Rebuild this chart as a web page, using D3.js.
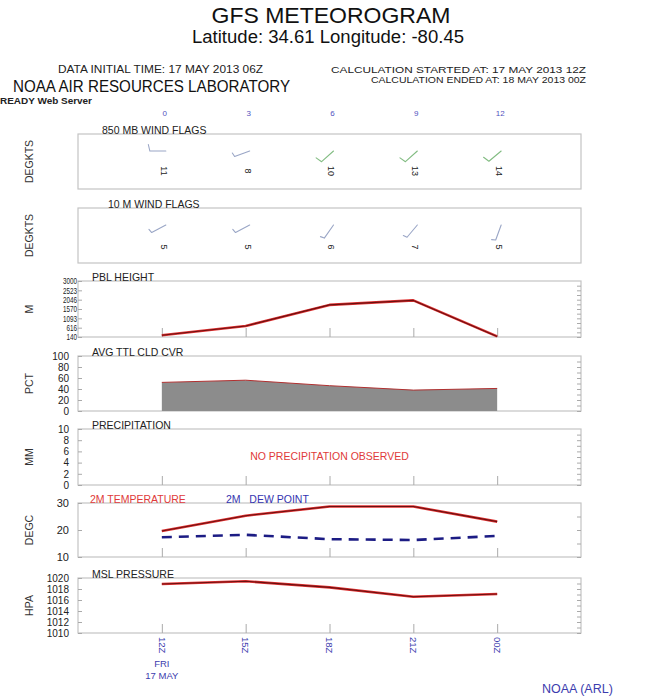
<!DOCTYPE html>
<html>
<head>
<meta charset="utf-8">
<script src="https://cdn.jsdelivr.net/npm/d3@7"></script>
<style>
  html, body { margin: 0; padding: 0; background: #fff; }
  svg { display: block; font-family: "Liberation Sans", Arial, sans-serif; }
</style>
</head>
<body>
<svg id="chart" width="662" height="696"></svg>
<script>
// Forecast hours and their labels
const hours = [0, 3, 6, 9, 12];
const hourLabels = ["0", "3", "6", "9", "12"];
const timeLabels = ["12Z", "15Z", "18Z", "21Z", "00Z"];

// Wind flags (direction the wind blows from, degrees; speed, knots)
const wind850Dir = [270, 250, 228, 228, 230];
const wind850Spd = [11, 8, 10, 13, 14];
const wind10Dir = [242, 242, 215, 220, 200];
const wind10Spd = [5, 5, 6, 7, 5];

// Boundary layer height (m)
const pblHeight = [230, 700, 1780, 2010, 170];
const pblTicks = [140, 616, 1093, 1570, 2046, 2523, 3000];

// Average total cloud cover (%)
const cloudCover = [52, 56, 46, 38, 41];
const cloudTicks = [0, 20, 40, 60, 80, 100];

// Precipitation (mm) – none forecast
const precipTicks = [0, 2, 4, 6, 8, 10];

// 2 m temperature and dew point (deg C)
const temp2m = [19.6, 25.3, 28.7, 28.7, 23.1];
const dew2m = [17.3, 18.2, 16.6, 16.3, 17.8];
const tempTicks = [10, 20, 30];

// Mean sea level pressure (hPa)
const mslp = [1018.9, 1019.4, 1018.3, 1016.6, 1017.1];
const presTicks = [1010, 1012, 1014, 1016, 1018, 1020];

const svg = d3.select("#chart");
const INK = "#222";
const BLUE = "#3c3cae";

const x = d3.scaleLinear().domain([-3, 15]).range([78, 581]);

// ---------- header ----------
function headerText(txt, px, py, size, len, anchor, fill, weight) {
  const t = svg.append("text").attr("x", px).attr("y", py)
    .attr("font-size", size).attr("fill", fill || INK)
    .attr("text-anchor", anchor || "start").text(txt);
  if (len) t.attr("textLength", len).attr("lengthAdjust", "spacingAndGlyphs");
  if (weight) t.attr("font-weight", weight);
  return t;
}
headerText("GFS METEOROGRAM", 331, 23, 22.5, 239, "middle", "#111");
headerText("Latitude: 34.61 Longitude: -80.45", 328, 43, 17.5, 272, "middle", "#111");
headerText("DATA INITIAL TIME: 17 MAY 2013 06Z", 58, 73, 10.5, 205);
headerText("CALCULATION STARTED AT: 17 MAY 2013 12Z", 586, 72.5, 9.5, 255, "end");
headerText("CALCULATION ENDED AT: 18 MAY 2013 00Z", 586, 82.5, 9.5, 215, "end");
headerText("NOAA AIR RESOURCES LABORATORY", 13, 91.5, 16, 277, "start", "#111");
headerText("READY Web Server", 0, 104, 8.5, 92, "start", INK, "bold");

// forecast hour labels along the top
svg.append("g").selectAll("text").data(hours).join("text")
  .attr("x", d => x(d) + 3).attr("y", 116).attr("text-anchor", "middle")
  .attr("font-size", 8).attr("fill", "#5252c0")
  .text((d, i) => hourLabels[i]);

// ---------- panel helper ----------
function panel(top, bottom, opts) {
  const g = svg.append("g");
  const y = d3.scaleLinear().domain(opts.domain || [0, 1]).range([bottom, top]);
  g.append("rect").attr("x", x.range()[0]).attr("y", top)
    .attr("width", x.range()[1] - x.range()[0]).attr("height", bottom - top)
    .attr("fill", "none").attr("stroke", "#c4c4c4").attr("stroke-width", 1.2);

  if (opts.ticks) {
    const ax = g.append("g").attr("transform", `translate(${x.range()[0]},0)`)
      .call(d3.axisLeft(y).tickValues(opts.ticks).tickSizeInner(-4).tickSizeOuter(0)
        .tickPadding(opts.pad || 9).tickFormat(d3.format("d")));
    ax.select(".domain").remove();
    ax.selectAll("line").attr("stroke", "#aaa");
    ax.selectAll("text").attr("font-size", opts.fontSize || 10.5).attr("fill", INK)
      .attr("font-family", "'Liberation Sans', Arial, sans-serif");
    if (opts.squeeze) {
      ax.selectAll("text").attr("transform", `scale(${opts.squeeze},1)`)
        .attr("x", -(opts.pad || 9) / opts.squeeze);
    }
    // minor ticks on the right border
    const minor = [];
    for (let i = 0; i < opts.ticks.length - 1; i++) {
      minor.push(opts.ticks[i], (opts.ticks[i] + opts.ticks[i + 1]) / 2);
    }
    const ar = g.append("g").attr("transform", `translate(${x.range()[1]},0)`)
      .call(d3.axisRight(y).tickValues(minor).tickSizeInner(-4).tickSizeOuter(0).tickFormat(""));
    ar.select(".domain").remove();
    ar.selectAll("line").attr("stroke", "#aaa");
  }
  if (opts.bottomTicks) {
    const ab = g.append("g").attr("transform", `translate(0,${bottom})`)
      .call(d3.axisBottom(x).tickValues(hours).tickSizeInner(-9).tickSizeOuter(0).tickFormat(""));
    ab.select(".domain").remove();
    ab.selectAll("line").attr("stroke", "#aaa");
  }
  // panel title sitting on the top border
  if (opts.title) {
    svg.append("text").attr("x", opts.titleX || 92).attr("y", top)
      .attr("font-size", 10.5).attr("fill", INK).text(opts.title);
  }
  // units label
  svg.append("text")
    .attr("transform", `translate(33,${(top + bottom) / 2}) rotate(-90)`)
    .attr("text-anchor", "middle").attr("font-size", 10.5).attr("fill", "#333")
    .text(opts.unit);
  return { g, y };
}

// ---------- wind flags ----------
function drawBarbs(g, cy, dirs, spds, numY) {
  const L = 16;
  dirs.forEach((dir, i) => {
    const spd = spds[i];
    const cx = x(hours[i]) + 4;
    const r = dir * Math.PI / 180;
    const ux = Math.sin(r), uy = -Math.cos(r);
    const px = -uy, py = ux;
    const tx = cx + ux * L, ty = cy + uy * L;
    let d = `M${cx},${cy}L${tx},${ty}`;
    const full = Math.floor(spd / 10);
    const half = (spd % 10) >= 5;
    for (let k = 0; k < full; k++) {
      const bx = tx - ux * k * 3, by = ty - uy * k * 3;
      d += `M${bx},${by}L${bx + px * 6.5 + ux * 1.5},${by + py * 6.5 + uy * 1.5}`;
    }
    if (half) {
      const bx = tx - ux * full * 3, by = ty - uy * full * 3;
      d += `M${bx},${by}L${bx + px * 4 + ux * 1},${by + py * 4 + uy * 1}`;
    }
    const colour = spd >= 10 && dir < 260 ? "#82bc82" : "#9aa6c6";
    g.append("path").attr("d", d).attr("fill", "none")
      .attr("stroke", colour).attr("stroke-width", 1.1).attr("stroke-linecap", "round");
    g.append("text")
      .attr("transform", `translate(${x(hours[i]) + 2},${numY}) rotate(90)`)
      .attr("text-anchor", "middle").attr("dy", "0.35em")
      .attr("font-size", 9).attr("fill", INK).text(spd);
  });
}

const p850 = panel(134, 189, { title: "850 MB  WIND FLAGS", titleX: 102, unit: "DEGKTS" });
drawBarbs(p850.g, 151, wind850Dir, wind850Spd, 171);

const p10 = panel(208, 263, { title: "10 M  WIND FLAGS", titleX: 108, unit: "DEGKTS" });
drawBarbs(p10.g, 225, wind10Dir, wind10Spd, 247);

// ---------- line helper ----------
function redLine(g, y, values) {
  const line = d3.line().x((d, i) => x(hours[i])).y(d => y(d));
  g.append("path").datum(values).attr("d", line).attr("fill", "none")
    .attr("stroke", "#e23232").attr("stroke-width", 2.6).attr("stroke-linejoin", "round");
  g.append("path").datum(values).attr("d", line).attr("fill", "none")
    .attr("stroke", "#6a1010").attr("stroke-width", 1.1).attr("stroke-linejoin", "round");
}

// ---------- PBL height ----------
const pPbl = panel(281, 337, {
  domain: [140, 3000], ticks: pblTicks, title: "PBL HEIGHT", unit: "M",
  bottomTicks: true, pad: 1, squeeze: 0.7, fontSize: 9
});
redLine(pPbl.g, pPbl.y, pblHeight);

// ---------- cloud cover ----------
const pCld = panel(356, 411, {
  domain: [0, 100], ticks: cloudTicks, title: "AVG TTL CLD CVR", unit: "PCT", fontSize: 10
});
pCld.g.append("path").datum(cloudCover)
  .attr("d", d3.area().x((d, i) => x(hours[i])).y0(pCld.y(0)).y1(d => pCld.y(d)))
  .attr("fill", "#8c8c8c");
pCld.g.append("path").datum(cloudCover)
  .attr("d", d3.line().x((d, i) => x(hours[i])).y(d => pCld.y(d)))
  .attr("fill", "none").attr("stroke", "#b03030").attr("stroke-width", 1);

// ---------- precipitation ----------
const pPcp = panel(429, 485, {
  domain: [0, 10], ticks: precipTicks, title: "PRECIPITATION", unit: "MM", bottomTicks: true, fontSize: 10
});
svg.append("text").attr("x", x(6)).attr("y", 460).attr("text-anchor", "middle")
  .attr("font-size", 10.5).attr("fill", "#e03a3a").text("NO PRECIPITATION OBSERVED");

// ---------- temperature / dew point ----------
const pTmp = panel(503, 557, {
  domain: [10, 30], ticks: tempTicks, unit: "DEGC", bottomTicks: true, fontSize: 11
});
svg.append("text").attr("x", 90).attr("y", 503).attr("font-size", 10.5).attr("fill", "#e03a3a")
  .text("2M TEMPERATURE");
svg.append("text").attr("x", 226).attr("y", 503).attr("font-size", 10.5).attr("fill", "#3434b0")
  .attr("xml:space", "preserve").text("2M   DEW POINT");
redLine(pTmp.g, pTmp.y, temp2m);
pTmp.g.append("path").datum(dew2m)
  .attr("d", d3.line().x((d, i) => x(hours[i])).y(d => pTmp.y(d)))
  .attr("fill", "none").attr("stroke", "#1c1c84").attr("stroke-width", 2.6)
  .attr("stroke-dasharray", "10,7");

// ---------- pressure ----------
const pPrs = panel(578, 633, {
  domain: [1010, 1020], ticks: presTicks, title: "MSL PRESSURE", unit: "HPA", bottomTicks: true, fontSize: 10
});
redLine(pPrs.g, pPrs.y, mslp);

// ---------- time axis labels ----------
svg.append("g").selectAll("text").data(hours).join("text")
  .attr("transform", d => `translate(${x(d)},637) rotate(90)`)
  .attr("dy", "0.35em").attr("font-size", 9.5).attr("fill", BLUE)
  .text((d, i) => timeLabels[i]);
svg.append("text").attr("x", x(0)).attr("y", 667).attr("text-anchor", "middle")
  .attr("font-size", 9.5).attr("fill", BLUE).text("FRI");
svg.append("text").attr("x", x(0)).attr("y", 679).attr("text-anchor", "middle")
  .attr("font-size", 9.5).attr("fill", BLUE).text("17 MAY");
svg.append("text").attr("x", 542).attr("y", 693).attr("font-size", 12.5).attr("fill", BLUE)
  .text("NOAA (ARL)");
</script>
</body>
</html>
